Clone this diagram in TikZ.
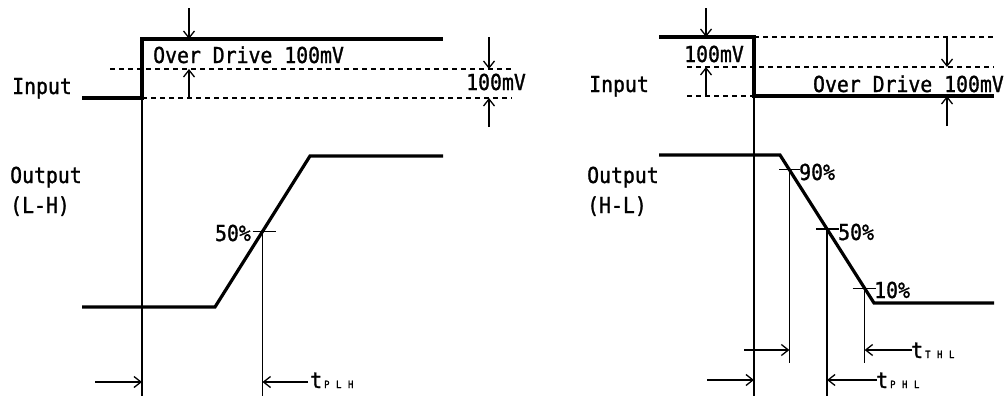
\documentclass[tikz,border=0pt]{standalone}
\usepackage{fontspec}
\usepackage{tikz}
\usetikzlibrary{arrows.meta,calc,positioning}
\newfontfamily\diagfont[FakeStretch=0.9,FakeBold=1.2]{DejaVu Sans Mono}
\newcommand{\sigw}{3.2pt}
\newcommand{\finew}{1.1pt}
\newcommand{\lblsize}{\fontsize{22}{30}\selectfont}
\newcommand{\tsub}[3]{t{\fontsize{10}{10}\selectfont\hspace{2pt}#1\hspace{6.5pt}#2\hspace{6.5pt}#3}}

\begin{document}
\begin{tikzpicture}[x=1pt,y=-1pt]
    \tikzset{
        signal/.style = {line width=\sigw, line join=miter},
        guide/.style = {line width=\finew},
        level/.style = {line width=\finew, dash pattern=on 5pt off 4pt},
        dimarrow/.style = {line width=1.3pt, -{Straight Barb[length=7pt,width=11pt,line width=1.3pt]}},
        txt/.style = {font=\diagfont\lblsize, inner sep=0pt, align=left}
    }
    \useasboundingbox (0,0) rectangle (1008,399);

    %% left: L-H
    \coordinate (l1) at (82,98);
    \coordinate (l2) at (142,98);
    \coordinate (l3) at (142,39);
    \coordinate (l4) at (443,39);
    \coordinate (lref) at (110,69);
    \coordinate (lrefE) at (512,69);
    \coordinate (llowE) at (512,98);
    \coordinate (lbot) at (142,396);

    \coordinate (o1) at (82,307);
    \coordinate (o2) at (215,307);
    \coordinate (o3) at (310,156);
    \coordinate (o4) at (443,156);
    \coordinate (o50) at ($(o2)!0.5!(o3)$);

    \draw[level] (lref) -- (lrefE);
    \draw[level] (l2) -- (llowE);
    \draw[guide] (l2) -- (lbot);
    \draw[signal] (l1) -- (l2) -- (l3) -- (l4);
    \draw[signal] (o1) -- (o2) -- (o3) -- (o4);
    \draw[guide] ([xshift=-10pt]o50) -- ([xshift=13pt]o50);
    \draw[guide] (o50) -- (o50 |- lbot);

    \coordinate (odl) at (189,8);
    \draw[dimarrow] (odl) -- (odl |- l3);
    \draw[dimarrow] (odl |- l2) -- (odl |- lref);
    \coordinate (hyl1) at (489,37);
    \coordinate (hyl2) at (489,127);
    \draw[dimarrow] (hyl1) -- (hyl1 |- lref);
    \draw[dimarrow] (hyl2) -- (hyl2 |- l2);

    \coordinate (tl1) at (95,382);
    \coordinate (tl2) at (308,382);
    \draw[dimarrow] (tl1) -- (tl1 -| l2);
    \draw[dimarrow] (tl2) -- (tl2 -| o50);

    \node[txt, anchor=base west] (inL) at (12,94) {Input};
    \node[txt, anchor=base west] (outL) at (10,213) {Output\\(L-H)};
    \node[txt, anchor=base west] (odtxtL) at (153,63) {Over Drive 100mV};
    \node[txt, anchor=base west] (hystL) at (466,90) {100mV};
    \node[txt, anchor=base east] (pctL) at (251,241) {50\%};
    \node[txt, anchor=base west] (tplh) at (310,388) {\tsub{P}{L}{H}};

    %% right: H-L
    \coordinate (r1) at (659,37);
    \coordinate (r2) at (754,37);
    \coordinate (r3) at (754,96);
    \coordinate (r4) at (994,96);
    \coordinate (rtopE) at (994,37);
    \coordinate (rref) at (687,67);
    \coordinate (rrefE) at (994,67);
    \coordinate (rlow) at (687,96);
    \coordinate (rbot) at (754,396);
    \coordinate (rmid) at (754,363);

    \coordinate (p1) at (659,155);
    \coordinate (p2) at (780,155);
    \coordinate (p3) at (874,303);
    \coordinate (p4) at (994,303);
    \coordinate (p90) at ($(p2)!0.1!(p3)$);
    \coordinate (p50) at ($(p2)!0.5!(p3)$);
    \coordinate (p10) at ($(p2)!0.9!(p3)$);

    \draw[level] (r2) -- (rtopE);
    \draw[level] (rref) -- (rrefE);
    \draw[level] (rlow) -- (r3);
    \draw[guide] (r3) -- (rbot);
    \draw[signal] (r1) -- (r2) -- (r3) -- (r4);
    \draw[signal] (p1) -- (p2) -- (p3) -- (p4);
    \draw[guide] ([xshift=-10pt]p90) -- ([xshift=11pt]p90);
    \draw[guide] ([xshift=-11pt]p50) -- ([xshift=12pt]p50);
    \draw[guide] ([xshift=-12pt]p10) -- ([xshift=11pt]p10);
    \draw[guide] (p90) -- (p90 |- rmid);
    \draw[guide] (p50) -- (p50 |- rbot);
    \draw[guide] (p10) -- (p10 |- rmid);

    \coordinate (odr) at (706,8);
    \draw[dimarrow] (odr) -- (odr |- r2);
    \draw[dimarrow] (odr |- rlow) -- (odr |- rref);
    \coordinate (hyr1) at (947,37);
    \coordinate (hyr2) at (947,126);
    \draw[dimarrow] (hyr1) -- (hyr1 |- rref);
    \draw[dimarrow] (hyr2) -- (hyr2 |- r3);

    \coordinate (tr1) at (744,350);
    \coordinate (tr2) at (912,350);
    \coordinate (tr3) at (707,380);
    \coordinate (tr4) at (877,380);
    \draw[dimarrow] (tr1) -- (tr1 -| p90);
    \draw[dimarrow] (tr2) -- (tr2 -| p10);
    \draw[dimarrow] (tr3) -- (tr3 -| r3);
    \draw[dimarrow] (tr4) -- (tr4 -| p50);

    \node[txt, anchor=base west] (inR) at (589,92) {Input};
    \node[txt, anchor=base west] (outR) at (587,213) {Output\\(H-L)};
    \node[txt, anchor=base west] (hystR) at (684,62) {100mV};
    \node[txt, anchor=base east] (odtxtR) at (1004,92) {Over Drive 100mV};
    \node[txt, anchor=base west] (p90t) at (799,180) {90\%};
    \node[txt, anchor=base west] (p50t) at (838,240) {50\%};
    \node[txt, anchor=base west] (p10t) at (874,298) {10\%};
    \node[txt, anchor=base west] (tthl) at (911,358) {\tsub{T}{H}{L}};
    \node[txt, anchor=base west] (tphl) at (876,388) {\tsub{P}{H}{L}};
\end{tikzpicture}
\end{document}
